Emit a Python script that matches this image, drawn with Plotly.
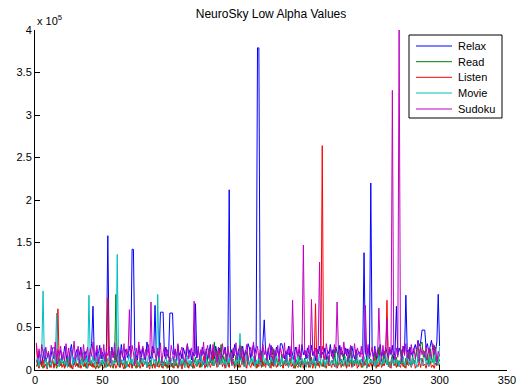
import plotly.graph_objects as go

# values in thousands (x 1000), sample index 1..300
relax_k = [
    12, 8, 22, 15, 6, 18, 25, 10, 14, 20,
    9, 16, 26, 26, 26, 12, 7, 19, 23, 11,
    15, 28, 17, 9, 13, 21, 30, 16, 8, 19,
    24, 12, 18, 27, 14, 10, 22, 17, 9, 15,
    20, 31, 75, 14, 11, 24, 18, 29, 13, 21,
    16, 10, 26, 158, 19, 12, 27, 15, 22, 9,
    18, 25, 13, 30, 17, 11, 24, 20, 14, 28,
    19, 142, 142, 23, 16, 12, 29, 21, 15, 26,
    18, 11, 33, 24, 17, 13, 28, 20, 76, 15,
    22, 12, 68, 68, 68, 16, 27, 19, 14, 67,
    67, 67, 18, 24, 11, 29, 17, 22, 13, 26,
    20, 15, 31, 18, 24, 12, 21, 16, 78, 14,
    23, 17, 10, 27, 19, 14, 25, 12, 21, 30,
    16, 24, 13, 28, 20, 11, 26, 18, 15, 22,
    27, 13, 19, 212, 17, 24, 14, 30, 21, 16,
    25, 12, 20, 28, 15, 23, 18, 31, 26, 14,
    22, 30, 19, 27, 379, 379, 24, 16, 33, 59,
    21, 15, 26, 12, 29, 18, 23, 14, 27, 20,
    16, 31, 31, 24, 13, 22, 18, 28, 15, 25,
    19, 12, 27, 21, 16, 24, 14, 30, 18, 23,
    13, 26, 20, 15, 29, 17, 22, 11, 25, 19,
    28, 14, 21, 17, 26, 12, 23, 19, 30, 16,
    24, 13, 27, 20, 15, 29, 18, 22, 12, 26,
    17, 25, 14, 21, 28, 19, 13, 24, 16, 22,
    19, 19, 19, 138, 21, 14, 26, 17, 220, 23,
    15, 28, 12, 24, 19, 30, 16, 22, 13, 27,
    20, 14, 25, 18, 29, 12, 23, 75, 17, 26,
    21, 15, 28, 19, 88, 24, 13, 27, 20, 16,
    25, 30, 22, 35, 28, 33, 47, 47, 47, 26,
    31, 20, 27, 35, 24, 29, 22, 33, 89, 28,
]

read_k = [
    4, 9, 3, 12, 6, 2, 8, 14, 5, 10,
    3, 7, 11, 4, 9, 2, 6, 13, 5, 8,
    10, 3, 7, 15, 4, 9, 2, 11, 6, 12,
    5, 8, 3, 10, 14, 4, 7, 2, 9, 6,
    11, 4, 8, 3, 13, 6, 2, 9, 5, 12,
    7, 3, 10, 4, 8, 15, 5, 2, 11, 89,
    6, 9, 3, 12, 5, 8, 2, 10, 4, 7,
    13, 3, 9, 6, 2, 11, 5, 8, 14, 4,
    7, 10, 3, 9, 5, 12, 2, 8, 6, 11,
    4, 14, 7, 3, 10, 5, 9, 2, 12, 6,
    8, 3, 11, 5, 9, 2, 7, 13, 4, 10,
    6, 12, 3, 8, 5, 10, 2, 9, 15, 4,
    7, 11, 3, 9, 6, 20, 4, 12, 25, 8,
    18, 5, 33, 10, 22, 7, 14, 30, 9, 16,
    6, 19, 11, 4, 24, 8, 13, 5, 17, 10,
    3, 12, 28, 7, 15, 4, 21, 9, 6, 14,
    11, 5, 18, 8, 3, 13, 7, 22, 4, 10,
    6, 16, 9, 3, 12, 5, 25, 8, 14, 4,
    10, 7, 19, 3, 11, 6, 15, 4, 9, 13,
    5, 8, 2, 12, 6, 17, 3, 10, 7, 14,
    4, 11, 8, 3, 15, 6, 9, 2, 13, 5,
    10, 7, 4, 12, 3, 9, 16, 5, 8, 11,
    6, 24, 9, 4, 28, 7, 13, 5, 19, 10,
    3, 14, 8, 26, 5, 11, 6, 17, 9, 4,
    12, 7, 3, 10, 6, 15, 4, 9, 13, 5,
    8, 20, 11, 4, 27, 7, 14, 5, 22, 9,
    6, 13, 3, 10, 18, 5, 8, 15, 4, 11,
    7, 24, 9, 3, 14, 6, 21, 10, 5, 17,
    8, 12, 26, 9, 18, 30, 33, 15, 22, 11,
    19, 7, 25, 13, 9, 28, 12, 6, 16, 10,
]

listen_k = [
    30, 5, 2, 9, 4, 12, 3, 7, 1, 10,
    6, 3, 14, 2, 8, 5, 72, 4, 11, 3,
    7, 2, 9, 5, 13, 3, 6, 1, 10, 4,
    8, 3, 12, 2, 6, 15, 4, 9, 2, 7,
    5, 11, 3, 8, 1, 6, 14, 3, 9, 4,
    2, 10, 5, 85, 7, 3, 12, 4, 8, 2,
    6, 13, 3, 9, 5, 1, 11, 4, 7, 3,
    10, 2, 8, 5, 14, 3, 6, 2, 9, 4,
    7, 12, 3, 6, 1, 10, 4, 8, 2, 13,
    5, 3, 9, 6, 2, 11, 4, 7, 3, 15,
    4, 8, 2, 12, 5, 3, 10, 6, 1, 9,
    3, 14, 6, 2, 8, 4, 11, 2, 7, 5,
    12, 3, 9, 5, 16, 2, 7, 4, 10, 3,
    8, 20, 5, 11, 3, 25, 6, 14, 4, 9,
    2, 13, 6, 3, 18, 5, 10, 2, 8, 4,
    11, 3, 7, 15, 4, 9, 2, 12, 6, 3,
    9, 5, 14, 2, 7, 4, 20, 3, 10, 6,
    3, 12, 5, 8, 2, 16, 4, 9, 3, 7,
    13, 4, 6, 2, 10, 5, 8, 3, 14, 4,
    7, 2, 11, 5, 3, 9, 6, 12, 2, 8,
    4, 10, 3, 15, 6, 2, 9, 78, 5, 11,
    3, 13, 264, 4, 8, 2, 10, 5, 7, 3,
    12, 4, 9, 2, 6, 14, 3, 8, 5, 10,
    2, 7, 4, 11, 3, 9, 5, 13, 2, 6,
    10, 3, 8, 5, 12, 2, 7, 4, 9, 3,
    6, 14, 2, 9, 4, 11, 3, 7, 5, 13,
    82, 4, 9, 2, 15, 5, 8, 3, 11, 6,
    3, 10, 4, 7, 2, 13, 5, 9, 3, 8,
    12, 2, 6, 4, 10, 3, 14, 5, 7, 2,
    9, 4, 11, 3, 6, 2, 8, 5, 10, 6,
]

movie_k = [
    8, 15, 4, 11, 20, 93, 6, 13, 3, 9,
    17, 5, 12, 22, 7, 67, 10, 4, 14, 8,
    19, 6, 11, 3, 16, 9, 24, 5, 13, 7,
    10, 18, 4, 12, 6, 21, 8, 15, 3, 88,
    11, 7, 17, 5, 13, 9, 20, 4, 12, 6,
    16, 8, 3, 14, 10, 22, 5, 11, 7, 13,
    136, 4, 18, 9, 12, 6, 15, 3, 10, 19,
    7, 13, 5, 21, 8, 11, 4, 16, 9, 14,
    6, 12, 3, 17, 10, 5, 20, 8, 13, 4,
    89, 11, 7, 15, 4, 9, 18, 6, 12, 3,
    10, 16, 5, 13, 8, 22, 4, 11, 7, 14,
    3, 9, 17, 6, 12, 4, 15, 8, 10, 5,
    13, 7, 19, 4, 11, 6, 16, 3, 9, 14,
    8, 12, 5, 18, 10, 4, 21, 7, 13, 6,
    11, 3, 15, 8, 20, 5, 12, 9, 4, 17,
    7, 43, 10, 6, 14, 3, 18, 11, 5, 13,
    9, 16, 4, 12, 7, 19, 5, 10, 24, 8,
    14, 6, 11, 3, 17, 9, 13, 5, 20, 7,
    10, 4, 15, 8, 12, 6, 18, 3, 11, 9,
    16, 5, 13, 7, 21, 4, 10, 14, 6, 12,
    3, 9, 18, 5, 11, 7, 15, 4, 13, 8,
    20, 6, 10, 14, 4, 12, 8, 17, 5, 11,
    7, 15, 3, 10, 19, 6, 13, 9, 4, 16,
    11, 5, 14, 8, 22, 4, 12, 7, 18, 6,
    9, 13, 5, 16, 10, 3, 20, 8, 12, 7,
    15, 4, 11, 6, 17, 9, 5, 13, 8, 19,
    6, 12, 3, 10, 14, 5, 18, 7, 11, 4,
    13, 8, 16, 5, 9, 21, 6, 12, 4, 15,
    7, 11, 3, 18, 10, 14, 5, 9, 20, 6,
    12, 4, 16, 8, 13, 6, 24, 10, 5, 27,
]

sudoku_k = [
    32, 14, 25, 8, 30, 18, 11, 27, 16, 22,
    9, 29, 19, 13, 33, 7, 24, 17, 28, 12,
    21, 10, 31, 15, 26, 6, 23, 19, 34, 11,
    18, 28, 8, 24, 14, 30, 12, 20, 27, 9,
    25, 16, 33, 11, 22, 29, 7, 19, 26, 13,
    30, 10, 21, 17, 28, 8, 24, 14, 32, 12,
    19, 27, 9, 23, 15, 31, 11, 25, 18, 71,
    13, 29, 20, 7, 26, 16, 33, 10, 22, 28,
    12, 24, 17, 30, 9, 80, 14, 27, 19, 11,
    26, 15, 32, 8, 21, 28, 13, 24, 17, 10,
    29, 18, 11, 25, 14, 31, 7, 22, 27, 16,
    9, 23, 30, 13, 19, 26, 10, 81, 20, 15,
    28, 12, 24, 17, 33, 8, 21, 29, 14, 25,
    11, 30, 16, 22, 9, 27, 19, 13, 31, 18,
    24, 10, 28, 15, 21, 7, 26, 17, 32, 12,
    20, 29, 14, 25, 8, 23, 30, 11, 19, 27,
    16, 33, 10, 22, 28, 13, 24, 9, 30, 18,
    25, 12, 21, 31, 15, 27, 8, 23, 17, 29,
    11, 26, 19, 14, 32, 10, 24, 18, 28, 13,
    82, 20, 9, 27, 16, 30, 12, 25, 147, 18,
    23, 14, 29, 11, 83, 21, 17, 26, 10, 24,
    127, 15, 28, 19, 12, 31, 22, 9, 26, 17,
    13, 30, 20, 80, 24, 11, 27, 16, 33, 19,
    25, 10, 22, 29, 14, 18, 31, 12, 26, 20,
    15, 28, 9, 23, 76, 17, 30, 13, 21, 27,
    11, 25, 19, 14, 73, 22, 10, 29, 16, 24,
    60, 13, 27, 20, 329, 18, 12, 26, 15, 401,
    22, 9, 28, 17, 31, 14, 24, 11, 30, 19,
    26, 13, 21, 33, 10, 27, 18, 23, 15, 29,
    12, 25, 20, 14, 31, 18, 27, 9, 22, 16,
]

series_names = ["Relax", "Read", "Listen", "Movie", "Sudoku"]
series_vals = [relax_k, read_k, listen_k, movie_k, sudoku_k]
series_colors = ["#0000FF", "#008000", "#FF0000", "#00BFBF", "#BF00BF"]

y_tick_vals = [0, 50000, 100000, 150000, 200000, 250000, 300000, 350000, 400000]
y_tick_text = ["0", "0.5", "1", "1.5", "2", "2.5", "3", "3.5", "4"]
x_tick_vals = [0, 50, 100, 150, 200, 250, 300, 350]

FONT = "Liberation Sans, Arial, Helvetica, sans-serif"

W, H = 517, 390
ML, MR, MT, MB = 35, 10, 30, 20
PW, PH = W - ML - MR, H - MT - MB


def px_x(p):
    return (p - ML) / PW


def px_y(p):
    return (H - MB - p) / PH


fig = go.Figure()
for name, vals, color in zip(series_names, series_vals, series_colors):
    fig.add_trace(go.Scatter(
        x=list(range(1, len(vals) + 1)),
        y=[v * 1000 for v in vals],
        mode="lines",
        name=name,
        line=dict(color=color, width=1),
        showlegend=False,
    ))

# legend box drawn MATLAB-style
shapes = [dict(type="rect", xref="paper", yref="paper",
               x0=px_x(409), x1=px_x(502), y0=px_y(118), y1=px_y(35),
               line=dict(color="black", width=1), fillcolor="white", layer="above")]
annotations = [dict(text="x 10<sup>5</sup>", xref="paper", yref="paper", x=0, y=1,
                    xanchor="left", yanchor="bottom", showarrow=False, yshift=1,
                    font=dict(size=11, family=FONT))]
entry_y = [46, 61.7, 77.3, 93, 109]
for name, color, ey in zip(series_names, series_colors, entry_y):
    shapes.append(dict(type="line", xref="paper", yref="paper",
                       x0=px_x(416), x1=px_x(452), y0=px_y(ey), y1=px_y(ey),
                       line=dict(color=color, width=1), layer="above"))
    annotations.append(dict(text=name, xref="paper", yref="paper",
                            x=px_x(456), y=px_y(ey), xanchor="left", yanchor="middle",
                            showarrow=False, font=dict(size=11, family=FONT)))

fig.update_layout(
    width=W, height=H,
    margin=dict(l=ML, r=MR, t=MT, b=MB),
    paper_bgcolor="white", plot_bgcolor="white",
    font=dict(family=FONT, size=11, color="black"),
    title=dict(text="NeuroSky Low Alpha Values", x=(ML + W - MR) / 2 / W, xanchor="center",
               y=1 - 14 / H, yanchor="middle", font=dict(size=12, family=FONT)),
    showlegend=False,
    xaxis=dict(range=[0, 350], tickvals=x_tick_vals, showgrid=False, zeroline=False,
               showline=True, linecolor="black", linewidth=1, ticks="inside",
               ticklen=5, tickcolor="black", tickfont=dict(size=11), automargin=False),
    yaxis=dict(range=[0, 400000], tickvals=y_tick_vals, ticktext=y_tick_text,
               showgrid=False, zeroline=False, showline=True, linecolor="black",
               linewidth=1, ticks="inside", ticklen=5, tickcolor="black",
               tickfont=dict(size=11), automargin=False),
    shapes=shapes,
    annotations=annotations,
)

fig.write_html("out.html")
